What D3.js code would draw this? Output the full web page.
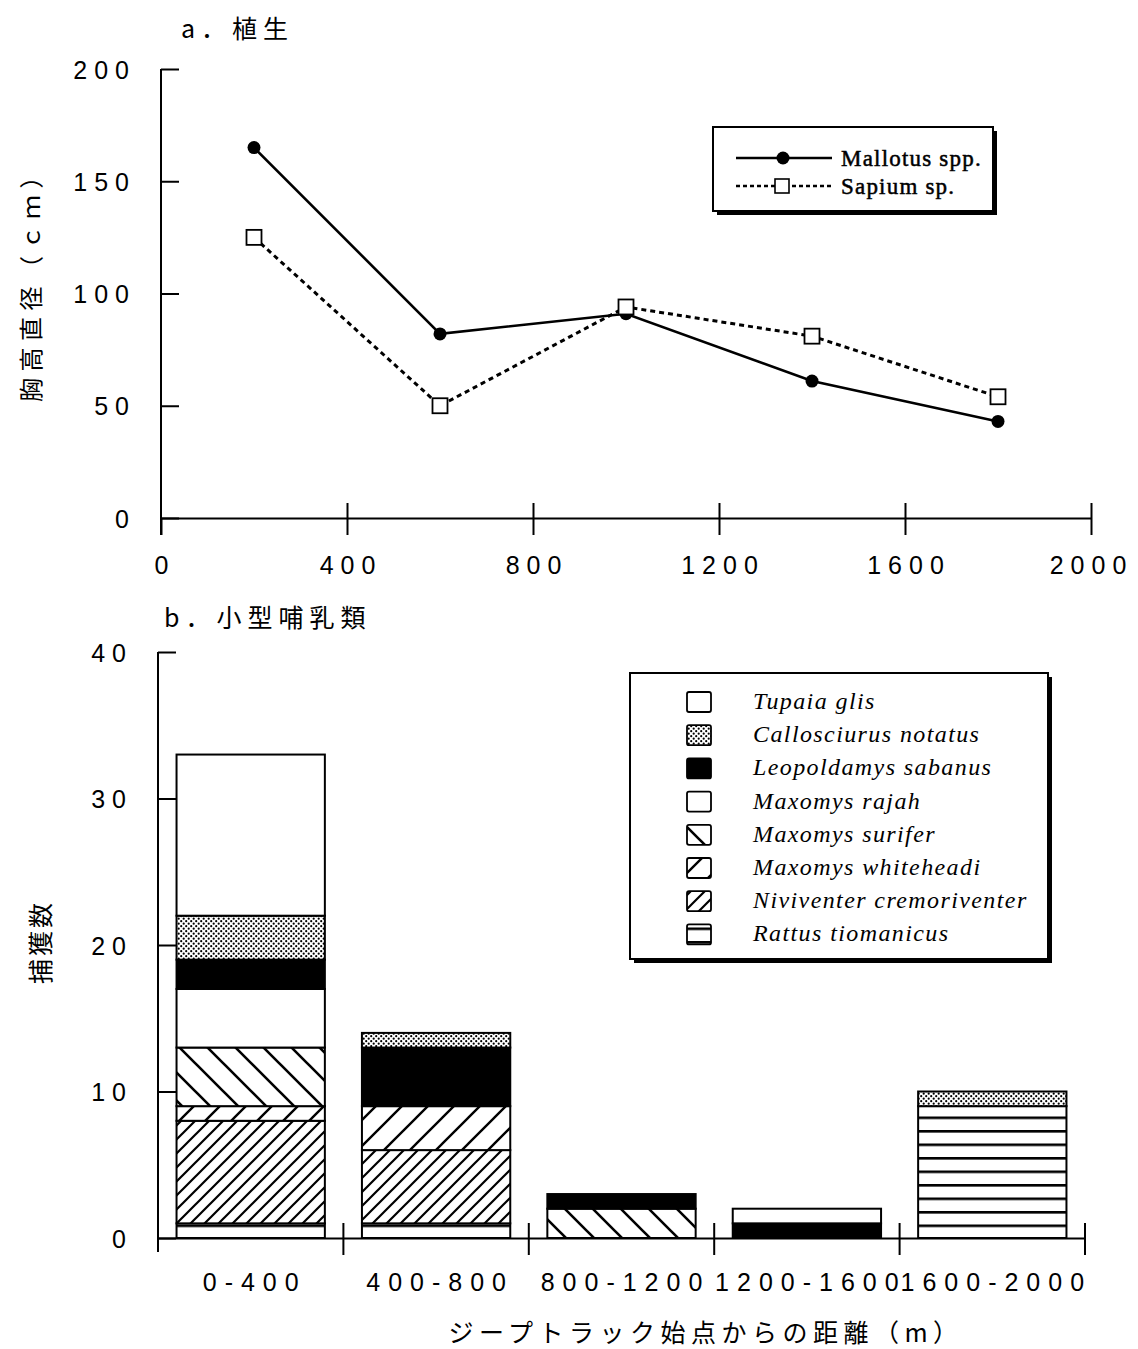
<!DOCTYPE html>
<html>
<head>
<meta charset="utf-8">
<script src="https://cdn.jsdelivr.net/npm/d3@7"></script>
<style>
  html, body { margin: 0; padding: 0; background: #fff; }
  svg { display: block; }
</style>
</head>
<body>
<svg id="chart" width="1138" height="1349"></svg>
<script>
// ---------- Data: panel a (vegetation) ----------
const distances = [200, 600, 1000, 1400, 1800];
const mallotus = [165, 82, 91, 61, 43];
const sapium = [125, 50, 94, 81, 54];
const aXTicks = [0, 400, 800, 1200, 1600, 2000];
const aYTicks = [0, 50, 100, 150, 200];

// ---------- Data: panel b (small mammals) ----------
const categories = ["0-400", "400-800", "800-1200", "1200-1600", "1600-2000"];
const rattus       = [1, 1, 0, 0, 9];
const niviventer   = [7, 5, 0, 0, 0];
const whiteheadi   = [1, 3, 0, 0, 0];
const surifer      = [4, 0, 2, 0, 0];
const rajah        = [4, 0, 0, 0, 0];
const leopoldamys  = [2, 4, 1, 1, 0];
const callosciurus = [3, 1, 0, 0, 1];
const tupaia       = [11, 0, 0, 1, 0];
const speciesNames = ["Tupaia glis", "Callosciurus notatus", "Leopoldamys sabanus", "Maxomys rajah",
                      "Maxomys surifer", "Maxomys whiteheadi", "Niviventer cremoriventer", "Rattus tiomanicus"];
const bYTicks = [0, 10, 20, 30, 40];

const svg = d3.select("#chart");
const defs = svg.append("defs");
const NUM_FONT = "'Liberation Sans', Arial, sans-serif";
const CJK_FONT = "'Noto Sans CJK JP', 'Noto Sans', sans-serif";

// ---------- Patterns ----------
function diagPattern(id, size, dir, w) {
  const p = defs.append("pattern").attr("id", id).attr("patternUnits", "userSpaceOnUse")
    .attr("width", size).attr("height", size);
  p.append("rect").attr("width", size).attr("height", size).attr("fill", "#fff");
  if (dir === "/") {
    p.append("path").attr("d", `M0,${size} L${size},0 M${-size/2},${size/2} L${size/2},${-size/2} M${size/2},${size*1.5} L${size*1.5},${size/2}`)
      .attr("stroke", "#000").attr("stroke-width", w);
  } else {
    p.append("path").attr("d", `M0,0 L${size},${size} M${-size/2},${size/2} L${size/2},${size*1.5} M${size/2},${-size/2} L${size*1.5},${size/2}`)
      .attr("stroke", "#000").attr("stroke-width", w);
  }
}
diagPattern("pSurifer", 28, "\\", 2.6);
diagPattern("pWhite", 26, "/", 2.4);
diagPattern("pNivi", 14, "/", 2.2);
{
  const p = defs.append("pattern").attr("id", "pRattus").attr("patternUnits", "userSpaceOnUse")
    .attr("width", 40).attr("height", 13.5).attr("y", 1238);
  p.append("rect").attr("width", 40).attr("height", 13.5).attr("fill", "#fff");
  p.append("rect").attr("y", 0).attr("width", 40).attr("height", 2.6).attr("fill", "#000");
}
{
  const p = defs.append("pattern").attr("id", "pDots").attr("patternUnits", "userSpaceOnUse")
    .attr("width", 5).attr("height", 5);
  p.append("rect").attr("width", 5).attr("height", 5).attr("fill", "#fff");
  p.append("circle").attr("cx", 1.2).attr("cy", 1.2).attr("r", 1.1).attr("fill", "#000");
  p.append("circle").attr("cx", 3.7).attr("cy", 3.7).attr("r", 1.1).attr("fill", "#000");
}
const fills = ["#fff", "url(#pDots)", "#000", "#fff", "url(#pSurifer)", "url(#pWhite)", "url(#pNivi)", "url(#pRattus)"];

// ================= Panel a =================
const ax = d3.scaleLinear().domain([0, 2000]).range([161, 1091]);
const ay = d3.scaleLinear().domain([0, 200]).range([518, 69]);

svg.append("text").attr("x", 181).attr("y", 38).attr("font-family", CJK_FONT).attr("font-size", 25)
  .attr("letter-spacing", 6).text("a．植生");

// y axis
const gAY = svg.append("g").attr("transform", `translate(${ax(0)},0)`)
  .call(d3.axisLeft(ay).tickValues(aYTicks).tickSizeInner(-18).tickSizeOuter(0).tickPadding(30));
gAY.select(".domain").remove();
gAY.selectAll("text").attr("font-family", NUM_FONT).attr("font-size", 25).attr("letter-spacing", 7)
  .attr("dx", 5).attr("dy", "0.36em");
gAY.selectAll("line").attr("stroke", "#000").attr("stroke-width", 2);
svg.append("line").attr("x1", ax(0)).attr("x2", ax(0)).attr("y1", ay(200)).attr("y2", ay(0) + 17)
  .attr("stroke", "#000").attr("stroke-width", 2);

// x axis
const gAX = svg.append("g").attr("transform", `translate(0,${ay(0)})`)
  .call(d3.axisBottom(ax).tickValues(aXTicks).tickFormat(d3.format("d")).tickSizeInner(17).tickSizeOuter(0).tickPadding(20));
gAX.select(".domain").attr("stroke", "#000").attr("stroke-width", 2);
gAX.selectAll(".tick line").attr("y1", d => d === 0 ? 0 : -15).attr("stroke", "#000").attr("stroke-width", 2);
gAX.selectAll("text").attr("font-family", NUM_FONT).attr("font-size", 25).attr("letter-spacing", 7)
  .attr("dx", d => d === 2000 ? 0 : 3.5).attr("dy", "0.75em");

// y title
svg.append("text").attr("transform", `translate(40,280) rotate(-90)`).attr("text-anchor", "middle")
  .attr("font-family", CJK_FONT).attr("font-size", 24).attr("letter-spacing", 6.5).text("胸高直径（ｃｍ）");

// lines
const lineGen = d3.line().x((d, i) => ax(distances[i])).y(d => ay(d));
svg.append("path").datum(sapium).attr("d", lineGen).attr("fill", "none").attr("stroke", "#000")
  .attr("stroke-width", 3).attr("stroke-dasharray", "5,4");
svg.append("path").datum(mallotus).attr("d", lineGen).attr("fill", "none").attr("stroke", "#000")
  .attr("stroke-width", 2.6);
svg.selectAll(".mpt").data(mallotus).enter().append("circle")
  .attr("cx", (d, i) => ax(distances[i])).attr("cy", d => ay(d)).attr("r", 6.5).attr("fill", "#000");
svg.selectAll(".spt").data(sapium).enter().append("rect")
  .attr("x", (d, i) => ax(distances[i]) - 7.5).attr("y", d => ay(d) - 7.5)
  .attr("width", 15).attr("height", 15).attr("fill", "#fff").attr("stroke", "#000").attr("stroke-width", 1.8);

// legend a
const la = svg.append("g");
la.append("rect").attr("x", 717).attr("y", 131).attr("width", 280).attr("height", 84).attr("fill", "#000");
la.append("rect").attr("x", 713).attr("y", 127).attr("width", 280).attr("height", 84)
  .attr("fill", "#fff").attr("stroke", "#000").attr("stroke-width", 2);
la.append("line").attr("x1", 736).attr("x2", 832).attr("y1", 158).attr("y2", 158).attr("stroke", "#000").attr("stroke-width", 2.6);
la.append("circle").attr("cx", 783).attr("cy", 158).attr("r", 6.5).attr("fill", "#000");
la.append("line").attr("x1", 736).attr("x2", 832).attr("y1", 186).attr("y2", 186).attr("stroke", "#000")
  .attr("stroke-width", 2.6).attr("stroke-dasharray", "4,3");
la.append("rect").attr("x", 775).attr("y", 179).attr("width", 14).attr("height", 14).attr("fill", "#fff")
  .attr("stroke", "#000").attr("stroke-width", 1.6);
la.append("text").attr("x", 841).attr("y", 166).attr("font-family", "'Liberation Serif', serif")
  .attr("font-size", 23).attr("letter-spacing", 1.2).attr("stroke", "#000").attr("stroke-width", 0.5).text("Mallotus spp.");
la.append("text").attr("x", 841).attr("y", 194).attr("font-family", "'Liberation Serif', serif")
  .attr("font-size", 23).attr("letter-spacing", 1.2).attr("stroke", "#000").attr("stroke-width", 0.5).text("Sapium sp.");

// ================= Panel b =================
const bx = d3.scaleBand().domain(categories).range([158, 1085]).paddingInner(0.2).paddingOuter(0.1);
const by = d3.scaleLinear().domain([0, 40]).range([1238, 652]);

svg.append("text").attr("x", 164).attr("y", 627).attr("font-family", CJK_FONT).attr("font-size", 25)
  .attr("letter-spacing", 6).text("b．小型哺乳類");

// stacks (bottom to top)
const stackKeys = ["rattus", "niviventer", "whiteheadi", "surifer", "rajah", "leopoldamys", "callosciurus", "tupaia"];
const stackFills = {tupaia: fills[0], callosciurus: fills[1], leopoldamys: fills[2], rajah: fills[3],
                    surifer: fills[4], whiteheadi: fills[5], niviventer: fills[6], rattus: fills[7]};
const series = {rattus, niviventer, whiteheadi, surifer, rajah, leopoldamys, callosciurus, tupaia};
const table = categories.map((c, i) => {
  const o = {cat: c};
  stackKeys.forEach(k => o[k] = series[k][i]);
  return o;
});
const stacked = d3.stack().keys(stackKeys)(table);
const gBars = svg.append("g");
stacked.forEach(layer => {
  gBars.selectAll(null).data(layer.filter(d => d[1] - d[0] > 0)).enter().append("rect")
    .attr("x", d => bx(d.data.cat)).attr("width", bx.bandwidth())
    .attr("y", d => by(d[1])).attr("height", d => by(d[0]) - by(d[1]))
    .attr("fill", stackFills[layer.key]).attr("stroke", "#000").attr("stroke-width", 2);
});

// y axis
const gBY = svg.append("g").attr("transform", `translate(158,0)`)
  .call(d3.axisLeft(by).tickValues(bYTicks).tickSizeInner(-18).tickSizeOuter(0).tickPadding(30));
gBY.select(".domain").remove();
gBY.selectAll("text").attr("font-family", NUM_FONT).attr("font-size", 25).attr("letter-spacing", 7)
  .attr("dx", 5).attr("dy", "0.36em");
gBY.selectAll("line").attr("stroke", "#000").attr("stroke-width", 2);
svg.append("line").attr("x1", 158).attr("x2", 158).attr("y1", by(40)).attr("y2", by(0) + 14)
  .attr("stroke", "#000").attr("stroke-width", 2);

// x axis
const gBX = svg.append("g").attr("transform", `translate(0,${by(0)})`)
  .call(d3.axisBottom(bx).tickSize(0).tickPadding(34));
gBX.select(".domain").attr("stroke", "#000").attr("stroke-width", 2);
gBX.selectAll("text").attr("font-family", NUM_FONT).attr("font-size", 25).attr("letter-spacing", 8)
  .attr("dx", 4).attr("dy", "0.75em");
const step = bx.step();
const bounds = d3.range(categories.length + 1).map(i => 158 + i * step);
svg.selectAll(".btick").data(bounds.slice(1)).enter().append("line")
  .attr("x1", d => d).attr("x2", d => d).attr("y1", by(0) - 15).attr("y2", by(0) + 17)
  .attr("stroke", "#000").attr("stroke-width", 2);

// x title
svg.append("text").attr("x", 706).attr("y", 1342).attr("text-anchor", "middle")
  .attr("font-family", CJK_FONT).attr("font-size", 25).attr("letter-spacing", 5.5)
  .text("ジープトラック始点からの距離（m）");
// y title
svg.append("text").attr("transform", `translate(50,942) rotate(-90)`).attr("text-anchor", "middle")
  .attr("font-family", CJK_FONT).attr("font-size", 25).attr("letter-spacing", 3).text("捕獲数");

// legend b
const lb = svg.append("g");
lb.append("rect").attr("x", 634).attr("y", 677).attr("width", 418).attr("height", 286).attr("fill", "#000");
lb.append("rect").attr("x", 630).attr("y", 673).attr("width", 418).attr("height", 286)
  .attr("fill", "#fff").attr("stroke", "#000").attr("stroke-width", 2);
const rowY = i => 702 + i * 33.2;
speciesNames.forEach((name, i) => {
  lb.append("rect").attr("x", 687).attr("y", rowY(i) - 10).attr("width", 24).attr("height", 20).attr("rx", 2)
    .attr("fill", fills[i]).attr("stroke", "#000").attr("stroke-width", 1.8);
  lb.append("text").attr("x", 753).attr("y", rowY(i) + 7).attr("font-family", "'Liberation Serif', serif")
    .attr("font-style", "italic").attr("font-size", 24).attr("letter-spacing", 1.4).text(name);
});
</script>
</body>
</html>
